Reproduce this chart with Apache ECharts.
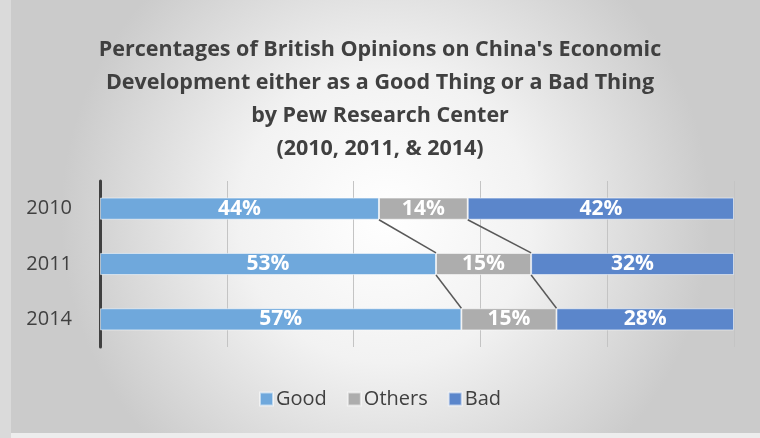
<!DOCTYPE html>
<html>
<head>
<meta charset="utf-8">
<script src="https://cdn.jsdelivr.net/npm/echarts@6/dist/echarts.min.js"></script>
<style>
  html, body { margin: 0; padding: 0; }
  #chart { width: 760px; height: 438px; }
</style>
</head>
<body>
<div id="chart"></div>
<script>
// Survey years and share of each opinion (percent)
const years = ['2010', '2011', '2014'];
const good = [44, 53, 57];
const others = [14, 15, 15];
const bad = [42, 32, 28];
const seriesNames = ['Good', 'Others', 'Bad'];
const xTicks = [0, 20, 40, 60, 80, 100];

const colors = ['#6FA8DC', '#ADADAD', '#5B86CB'];
const BAR_GAP = 0.6; // share of each band left empty

const chart = echarts.init(document.getElementById('chart'), null, { renderer: 'canvas' });

const labelStyle = {
  show: true,
  position: 'inside',
  formatter: p => p.value + '%',
  color: '#ffffff',
  fontFamily: 'Open Sans',
  fontWeight: 'bold',
  fontSize: 21
};

function barSeries(name, values, color) {
  return {
    name: name,
    type: 'bar',
    stack: 'total',
    barCategoryGap: (BAR_GAP * 100) + '%',
    data: values,
    itemStyle: { color: color, borderColor: 'rgba(255,255,255,0.55)', borderWidth: 1 },
    label: labelStyle,
    z: 3
  };
}

// Connector lines joining the segment boundaries of consecutive bars
const goodEnd = good;
const othersEnd = good.map((g, i) => g + others[i]);
const connectorData = years.slice(0, -1).map((y, i) => [i, goodEnd[i], othersEnd[i], goodEnd[i + 1], othersEnd[i + 1]]);

const option = {
  backgroundColor: '#EDEDED',
  graphic: [
    {
      type: 'rect',
      left: 11, top: 0, z: -10,
      shape: { width: 749, height: 433 },
      style: {
        fill: {
          type: 'radial', x: 0.5, y: 0.5, r: 0.75,
          colorStops: [
            { offset: 0, color: '#FFFFFF' },
            { offset: 0.45, color: '#F2F2F2' },
            { offset: 1, color: '#CBCBCB' }
          ]
        }
      },
      silent: true
    },
    {
      type: 'rect', left: 0, top: 0, z: -10,
      shape: { width: 11, height: 438 },
      style: { fill: '#DADADA' }, silent: true
    }
  ],
  textStyle: { fontFamily: 'Open Sans' },
  title: {
    text: "Percentages of British Opinions on China's Economic\nDevelopment either as a Good Thing or a Bad Thing\nby Pew Research Center\n(2010, 2011, & 2014)",
    left: 'center',
    top: 28,
    textStyle: {
      fontFamily: 'Open Sans',
      fontWeight: 'bold',
      fontSize: 21.5,
      lineHeight: 33,
      color: '#404040'
    }
  },
  legend: {
    bottom: 24,
    left: 'center',
    itemWidth: 13,
    itemHeight: 13,
    itemGap: 20,
    icon: 'rect',
    data: seriesNames,
    textStyle: { fontFamily: 'Open Sans', fontSize: 20, color: '#404040', padding: [0, 0, 0, -2] }
  },
  grid: { left: 100, right: 26, top: 181, bottom: 91, containLabel: false },
  xAxis: {
    type: 'value',
    min: xTicks[0],
    max: xTicks[xTicks.length - 1],
    interval: xTicks[1] - xTicks[0],
    axisLabel: { show: false },
    axisLine: { show: false },
    axisTick: { show: false },
    splitLine: { show: true, lineStyle: { color: '#C4C4C4', width: 1 } }
  },
  yAxis: {
    type: 'category',
    data: years,
    inverse: true,
    axisLine: { show: true, lineStyle: { color: '#404040', width: 3 } },
    axisTick: { show: false },
    axisLabel: { color: '#404040', fontFamily: 'Open Sans', fontSize: 20, margin: 28 }
  },
  series: [
    barSeries(seriesNames[0], good, colors[0]),
    barSeries(seriesNames[1], others, colors[1]),
    barSeries(seriesNames[2], bad, colors[2]),
    {
      type: 'custom',
      silent: true,
      z: 4,
      data: connectorData,
      encode: { x: [1, 2, 3, 4], y: 0 },
      renderItem: function (params, api) {
        const idx = api.value(0);
        const band = api.size([0, 1])[1];
        const half = band * (1 - BAR_GAP) / 2;
        const children = [];
        [[1, 3], [2, 4]].forEach(([a, b]) => {
          const p0 = api.coord([api.value(a), idx]);
          const p1 = api.coord([api.value(b), idx + 1]);
          children.push({
            type: 'line',
            shape: { x1: p0[0], y1: p0[1] + half, x2: p1[0], y2: p1[1] - half },
            style: { stroke: '#595959', lineWidth: 1.5 }
          });
        });
        return { type: 'group', children: children };
      }
    }
  ]
};

chart.setOption(option);
</script>
</body>
</html>
